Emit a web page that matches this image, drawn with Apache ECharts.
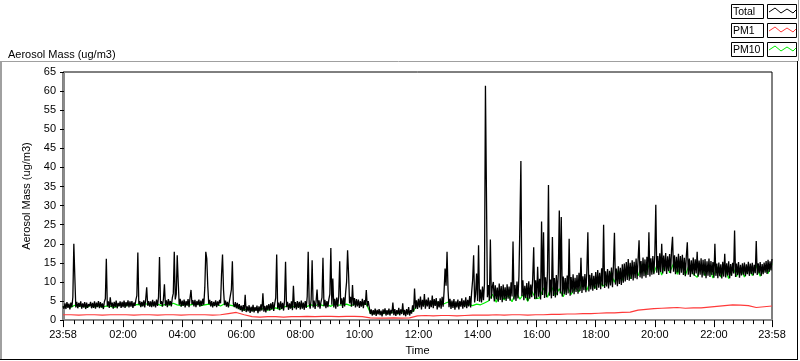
<!DOCTYPE html>
<html>
<head>
<meta charset="utf-8">
<script src="https://cdn.jsdelivr.net/npm/echarts@6/dist/echarts.min.js"></script>
<style>
html,body{margin:0;padding:0;background:#fff;}
#chart{width:800px;height:361px;}
</style>
</head>
<body>
<div id="chart"></div>
<script>
// ---- data (minutes from midnight of day 1; start 23:58 = -2) ----
var startMinute = -2;
var stepTotal = 2, stepPM10 = 8, stepPM1 = 16;
var seriesNames = ['Total', 'PM1', 'PM10'];
var seriesColors = ['#000000', '#ff3a3a', '#00ee00'];
var yTicks = [0, 65, 5];
var xLabelValues = [-2, 120, 240, 360, 480, 600, 720, 840, 960, 1080, 1200, 1320, 1438];
var xLabelText = ['23:58','02:00','04:00','06:00','08:00','10:00','12:00','14:00','16:00','18:00','20:00','22:00','23:58'];

// one row = one hour (30 samples, 2 min apart)
var totalValues = [
3.6,3.0,4.4,2.9,4.7,3.2,4.3,2.8,4.6,3.4,6.0,20.0,11.4,3.3,4.8,3.1,4.5,3.5,4.9,3.0,4.4,3.3,4.7,2.9,4.6,3.2,4.2,3.6,4.8,3.1,
4.5,3.2,4.9,3.0,4.6,3.4,5.0,3.1,4.7,3.3,4.4,2.9,4.8,5.6,16.1,3.6,4.9,3.2,6.0,3.5,4.6,3.0,4.8,3.4,5.1,3.1,4.5,3.6,4.9,3.2,
4.8,3.4,5.1,3.2,4.7,3.6,5.2,3.3,4.9,3.5,5.0,3.2,4.6,3.7,5.3,6.4,17.7,4.1,5.0,3.4,4.8,3.6,5.2,3.3,5.5,8.6,3.8,5.0,3.5,4.9,
3.4,5.3,3.6,4.9,3.3,5.4,3.7,6.1,16.5,4.2,5.0,3.5,5.6,9.4,3.8,5.2,3.4,5.5,3.9,5.0,3.6,5.8,7.0,17.9,5.4,6.8,17.0,10.0,4.0,5.6,
3.5,5.1,3.7,5.4,3.3,5.0,3.8,5.5,3.4,5.9,7.9,4.1,5.2,3.6,5.3,3.4,5.0,3.9,5.4,3.5,5.1,3.7,5.6,4.0,8.5,17.9,16.1,9.0,4.2,5.3,
3.6,5.0,3.3,4.8,3.7,5.2,3.4,4.9,3.8,5.3,4.4,12.0,17.2,8.0,3.9,5.1,3.5,4.8,3.3,5.0,4.6,8.0,15.4,4.2,3.4,4.7,3.1,4.5,2.9,4.2,
2.6,3.8,2.2,3.9,2.4,6.6,2.1,3.6,2.3,3.9,1.9,3.5,2.2,4.0,2.0,3.4,2.4,3.8,1.8,3.6,2.3,4.1,2.5,7.0,2.2,3.7,2.0,3.9,2.6,4.2,
2.5,4.4,2.8,4.7,2.4,4.3,5.8,17.2,3.0,4.6,2.6,4.9,2.9,4.5,2.5,5.2,15.3,3.4,4.8,2.7,4.4,3.0,4.9,2.6,9.0,3.1,4.7,2.8,5.0,3.2,
4.8,2.8,5.1,3.0,4.6,2.7,5.0,3.2,6.2,17.9,4.4,3.0,5.4,15.7,3.3,5.1,2.9,4.9,8.0,3.4,5.2,3.0,4.8,5.9,16.3,3.6,5.3,3.1,5.0,3.4,
5.5,6.8,18.9,4.0,10.9,3.3,5.6,3.0,5.9,3.5,6.3,15.4,4.1,5.7,3.2,6.0,3.6,7.2,10.0,18.3,12.0,4.4,6.1,3.5,9.2,3.8,5.8,3.3,5.5,3.6,
5.4,3.2,5.0,3.5,5.6,3.1,5.2,4.0,7.9,3.6,5.0,3.4,1.6,2.8,1.2,2.6,1.4,3.0,1.1,2.7,1.5,2.9,1.3,2.5,1.0,2.8,1.6,3.1,1.2,2.6,
1.4,3.0,1.2,2.7,1.7,4.6,1.3,2.9,1.1,2.6,1.5,3.2,1.2,2.8,1.6,4.4,1.3,2.7,1.0,2.9,1.4,3.4,1.2,2.6,1.7,3.9,2.2,8.3,3.0,5.2,
2.9,5.6,3.3,6.2,2.8,5.3,3.5,6.8,3.0,5.4,3.6,5.9,2.9,5.2,3.4,6.4,3.1,5.5,3.7,5.8,2.8,5.0,3.3,5.7,3.0,6.1,3.5,7.6,13.5,9.0,
17.9,8.0,3.4,5.6,2.9,5.1,3.2,5.5,2.7,4.9,3.3,5.4,2.8,5.0,3.5,5.7,3.0,5.2,3.4,6.0,3.1,5.3,3.6,6.3,3.3,7.4,10.5,17.0,4.6,6.8,
12.2,5.0,19.6,4.8,8.0,4.6,8.8,5.2,9.5,61.4,33.6,6.0,9.2,5.1,21.1,5.6,8.7,10.0,4.9,9.1,5.4,8.5,4.8,9.6,5.3,8.9,4.7,9.3,5.5,8.6,
5.0,9.4,5.6,8.8,5.1,9.9,6.2,20.6,5.4,9.2,5.0,10.1,5.7,11.5,25.2,41.7,6.3,10.4,5.2,9.0,5.8,9.7,5.1,10.2,5.6,9.3,6.0,11.0,19.1,5.5,
10.4,5.6,14.0,6.1,10.8,5.4,25.8,6.6,23.0,5.8,11.2,6.0,12.5,35.4,6.4,10.6,5.7,21.8,6.3,11.0,5.9,11.8,6.5,12.2,28.7,7.0,27.0,6.2,11.4,6.8,
11.0,6.6,11.7,7.0,21.3,6.4,11.3,7.2,12.0,6.8,11.1,7.4,11.8,6.9,12.4,7.6,16.3,7.1,11.5,7.8,12.1,7.3,13.0,23.0,7.5,11.9,8.0,12.3,7.7,11.6,
8.2,12.6,7.9,13.1,8.5,12.4,8.1,13.6,9.0,25.0,8.4,12.8,8.8,13.4,8.3,12.9,9.1,13.8,8.6,14.5,22.9,9.3,13.5,8.9,14.1,9.5,13.7,9.2,14.6,9.8,
14.8,10.1,15.2,10.5,16.0,10.3,15.0,10.8,15.7,10.4,15.3,11.0,16.1,10.7,15.8,20.9,11.2,15.5,10.9,16.4,11.5,15.9,11.1,16.6,11.8,23.0,11.4,16.2,11.9,16.8,
12.0,17.2,30.2,12.4,16.8,11.8,17.5,12.6,20.0,12.2,16.9,12.8,17.6,12.1,16.7,12.9,17.3,12.3,18.4,21.8,12.7,17.0,12.0,16.6,12.5,17.4,11.9,16.8,12.4,17.1,
11.8,16.3,11.5,16.8,20.4,11.9,16.1,11.3,15.7,12.0,16.4,11.6,15.9,12.2,17.9,11.4,15.6,11.9,16.2,11.2,15.8,11.7,16.0,11.0,15.4,11.6,16.1,11.3,15.5,11.8,
15.2,11.1,20.0,11.6,14.8,11.0,15.1,11.5,14.6,10.9,15.3,11.4,17.4,11.2,14.9,11.7,15.4,11.0,14.7,11.6,15.0,12.2,23.5,11.3,14.8,11.8,15.2,11.1,14.5,11.7,
14.9,11.9,15.1,11.5,14.6,12.0,15.3,11.6,14.8,12.1,15.0,11.7,14.5,12.3,20.7,11.8,14.9,12.2,15.2,11.6,14.7,12.0,15.1,12.4,15.5,12.1,15.8,12.6,15.4,13.0,
16.0
];

var pm10Values = [
3.5,3.8,3.4,3.9,3.6,3.7,3.3,3.9,3.5,3.8,3.4,3.7,3.6,3.3,3.8,
4.0,3.7,4.2,3.9,4.1,3.8,4.3,3.9,4.0,4.2,3.8,4.1,3.9,4.4,4.0,3.8,4.2,3.9,4.1,4.3,3.8,4.0,4.2,3.9,4.1,3.7,4.3,4.0,3.8,3.5,
2.9,2.6,3.0,2.5,2.8,2.7,3.1,2.6,2.9,3.2,2.8,
3.4,3.7,3.3,3.8,3.5,3.9,3.6,4.0,3.7,4.2,3.8,4.1,3.6,4.3,3.9,4.0,4.2,3.8,4.1,4.4,4.0,4.3,
1.9,1.7,2.1,1.6,2.0,1.8,2.2,1.7,2.3,1.9,2.0,2.4,
4.3,4.6,4.0,4.5,4.2,4.7,4.1,4.4,4.8,4.2,4.0,4.3,3.9,4.1,3.8,4.2,4.0,4.5,
5.0,6.8,4.7,7.2,5.3,6.5,4.8,7.4,5.5,6.9,4.9,7.6,5.6,
5.8,8.4,6.0,8.9,6.4,8.2,6.1,9.0,6.7,8.6,
7.4,10.2,7.8,10.8,8.3,10.5,8.9,
9.6,12.4,9.9,13.0,10.4,13.4,10.8,13.8,
11.6,14.6,11.9,15.2,12.3,15.0,11.8,15.4,12.4,14.8,12.0,15.1,11.7,14.6,12.1,
11.2,14.5,11.6,14.2,11.0,14.0,11.3,13.8,10.9,14.1,11.4,13.7,
11.3,14.0,11.7,14.3,11.5,13.9,12.2,14.8
];

var pm1Values = [
1.4,1.4,1.3,1.4,1.4,1.3,1.4,1.4,1.4,1.3,1.4,1.4,1.3,1.4,1.4,1.3,1.4,1.4,1.4,1.3,1.4,
1.7,2.0,1.4,
0.9,0.8,0.9,0.9,0.8,0.9,0.9,1.0,0.9,1.0,1.0,0.9,1.0,1.0,0.9,
0.6,0.5,0.5,0.6,0.5,0.6,
1.1,1.2,1.1,1.2,1.2,1.1,1.2,1.3,
1.3,1.3,1.4,1.3,1.4,1.4,1.3,1.4,
1.4,1.5,1.5,1.6,1.6,1.7,1.7,1.8,
1.9,1.9,2.0,2.1,2.6,
2.8,3.0,3.1,3.2,3.3,3.1,3.2,
3.2,3.4,3.6,3.8,4.0,3.9,
3.8,3.3,3.5,3.7
];

function pairs(vals, step) {
  return vals.map(function (v, i) { return [startMinute + i * step, v]; });
}
var minorTickValues = [];
for (var m = 0; m <= 1420; m += 20) { if (m % 120 !== 0) minorTickValues.push(m); }

var FONT = 'Liberation Sans';

// legend drawn as LabVIEW-style boxes
var legendGraphics = [];
var zigPts = [[0, 8], [6, 4], [12, 9], [18, 5], [24, 9], [27, 6]];
seriesNames.forEach(function (name, k) {
  var top = 4 + k * 19;
  legendGraphics.push({type: 'rect', shape: {x: 731.5, y: top + 0.5, width: 32, height: 14},
    style: {fill: '#fff', stroke: '#000', lineWidth: 1}, silent: true});
  legendGraphics.push({type: 'text', x: 733, y: top + 8, silent: true,
    style: {text: name, fill: '#000', font: '10.5px "' + FONT + '"', verticalAlign: 'middle', align: 'left'}});
  legendGraphics.push({type: 'rect', shape: {x: 767.5, y: top + 0.5, width: 29, height: 14},
    style: {fill: '#fff', stroke: '#000', lineWidth: 1}, silent: true});
  legendGraphics.push({type: 'polyline', silent: true,
    shape: {points: zigPts.map(function (p) { return [768 + 1 + p[0], top + p[1]]; })},
    style: {fill: 'none', stroke: seriesColors[k], lineWidth: 1}});
});

var frameGraphics = [
  {type: 'line', shape: {x1: 798.5, y1: 0, x2: 798.5, y2: 61}, style: {stroke: '#a0a0a0', lineWidth: 1}, silent: true},
  {type: 'line', shape: {x1: 0, y1: 61.5, x2: 797, y2: 61.5}, style: {stroke: '#a0a0a0', lineWidth: 1}, silent: true},
  {type: 'line', shape: {x1: 1, y1: 61, x2: 1, y2: 359}, style: {stroke: '#a0a0a0', lineWidth: 2}, silent: true},
  {type: 'line', shape: {x1: 797.5, y1: 61, x2: 797.5, y2: 360}, style: {stroke: '#000', lineWidth: 1}, silent: true},
  {type: 'line', shape: {x1: 0, y1: 359.5, x2: 798, y2: 359.5}, style: {stroke: '#000', lineWidth: 1}, silent: true}
];

var chart = echarts.init(document.getElementById('chart'), null, {renderer: 'canvas'});
chart.setOption({
  animation: false,
  backgroundColor: '#fff',
  textStyle: {fontFamily: FONT},
  title: {
    text: 'Aerosol Mass (ug/m3)', left: 3, top: 44,
    textStyle: {fontFamily: FONT, fontSize: 11, fontWeight: 'normal', color: '#000'}
  },
  legend: {show: false, data: seriesNames},
  graphic: frameGraphics.concat(legendGraphics),
  grid: {left: 63, top: 72, right: 28, bottom: 39, show: true, borderColor: '#000', borderWidth: 1, backgroundColor: '#fff'},
  xAxis: [
    {
      type: 'value', position: 'bottom', min: -2, max: 1438,
      name: 'Time', nameLocation: 'middle', nameGap: 24,
      nameTextStyle: {fontFamily: FONT, fontSize: 11, color: '#000'},
      axisLine: {show: true, lineStyle: {color: '#8a8a8a', width: 2}},
      axisTick: {show: true, customValues: xLabelValues, length: 7, lineStyle: {color: '#000', width: 1}},
      axisLabel: {show: true, customValues: xLabelValues, margin: 9, fontFamily: FONT, fontSize: 11, color: '#000',
        formatter: function (v) { var k = xLabelValues.indexOf(v); return k >= 0 ? xLabelText[k] : ''; }},
      splitLine: {show: false}
    },
    {
      type: 'value', position: 'bottom', min: -2, max: 1438, offset: 0,
      axisLine: {show: false},
      axisTick: {show: true, customValues: minorTickValues, length: 4, lineStyle: {color: '#000', width: 1}},
      axisLabel: {show: false},
      splitLine: {show: false}
    }
  ],
  yAxis: [
    {
      type: 'value', position: 'left', min: yTicks[0], max: yTicks[1], interval: yTicks[2],
      name: 'Aerosol Mass (ug/m3)', nameLocation: 'middle', nameGap: 26, nameRotate: 90,
      nameTextStyle: {fontFamily: FONT, fontSize: 11, color: '#000'},
      axisLine: {show: true, lineStyle: {color: '#000', width: 1}},
      axisTick: {show: true, length: 4, lineStyle: {color: '#000'}},
      axisLabel: {margin: 7, fontFamily: FONT, fontSize: 11, color: '#000'},
      splitLine: {show: false}
    },
    {
      type: 'value', position: 'right', min: yTicks[0], max: yTicks[1], interval: yTicks[2],
      axisLine: {show: true, lineStyle: {color: '#8a8a8a', width: 2}},
      axisTick: {show: false}, axisLabel: {show: false}, splitLine: {show: false}
    }
  ],
  series: [
    {name: 'PM1', type: 'line', xAxisIndex: 0, yAxisIndex: 0, data: pairs(pm1Values, stepPM1),
      showSymbol: false, symbol: 'none', lineStyle: {color: seriesColors[1], width: 1.2}, itemStyle: {color: seriesColors[1]}, z: 2},
    {name: 'PM10', type: 'line', xAxisIndex: 0, yAxisIndex: 0, data: pairs(pm10Values, stepPM10),
      showSymbol: false, symbol: 'none', lineStyle: {color: seriesColors[2], width: 1.2}, itemStyle: {color: seriesColors[2]}, z: 3},
    {name: 'Total', type: 'line', xAxisIndex: 0, yAxisIndex: 0, data: pairs(totalValues, stepTotal),
      showSymbol: false, symbol: 'none', sampling: null, lineStyle: {color: seriesColors[0], width: 1.3}, itemStyle: {color: seriesColors[0]}, z: 4}
  ]
});
</script>
</body>
</html>
